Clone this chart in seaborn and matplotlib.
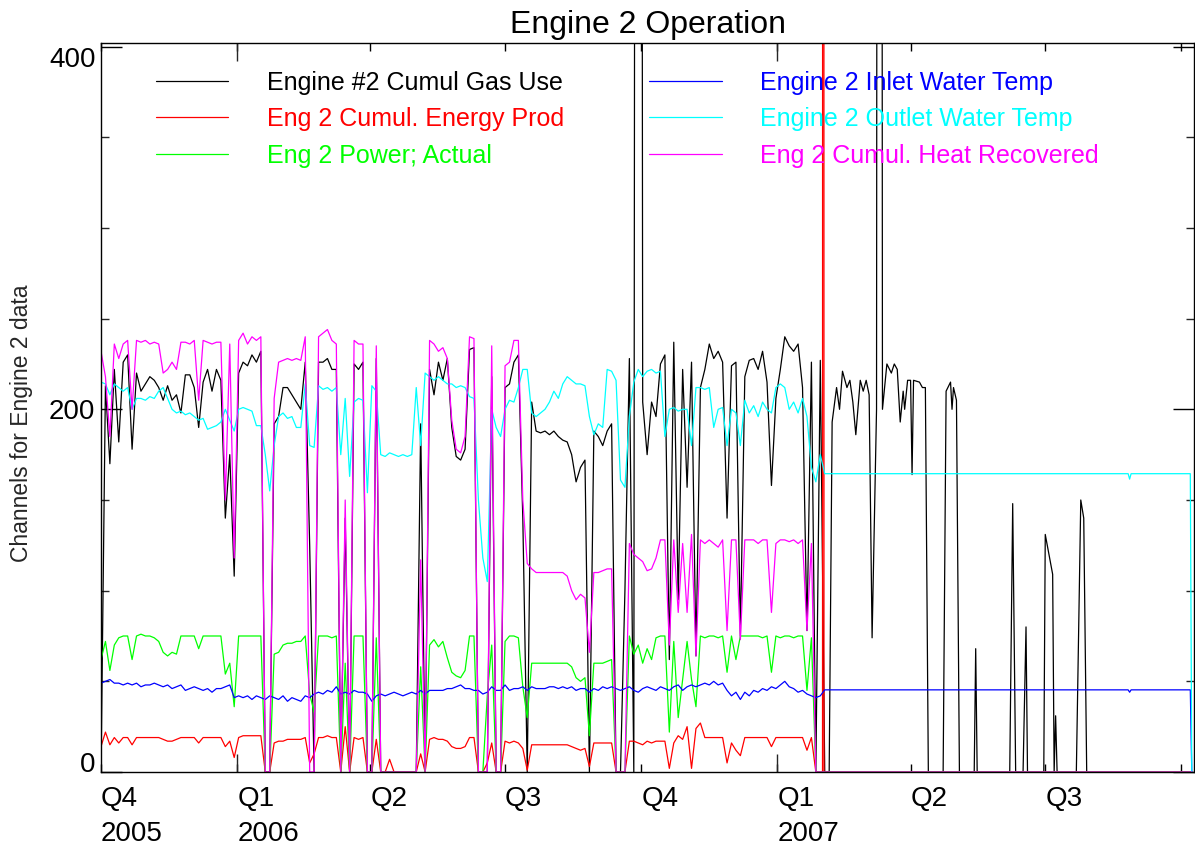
import numpy as np
import pandas as pd
import matplotlib
matplotlib.use("Agg")
import matplotlib.pyplot as plt
import matplotlib.dates as mdates
import seaborn as sns

# ---------------- data ----------------
# active period: samples every 3 days starting 2005-10-01
active_start = "2005-10-01"
active_n = 163

gas_active = [
    0, 213, 170, 222, 182, 226, 230, 178, 220, 210,
    214, 218, 216, 212, 205, 213, 205, 208, 198, 219,
    219, 212, 190, 215, 222, 210, 222, 216, 140, 175,
    108, 220, 226, 224, 230, 226, 232, 0, 0, 192,
    196, 212, 212, 208, 204, 200, 226, 125, 0, 226,
    226, 228, 222, 222, 0, 140, 0, 225, 222, 226,
    0, 0, 228, 0, 0, 0, 0, 0, 0, 0,
    0, 0, 192, 0, 222, 208, 226, 216, 228, 190,
    174, 172, 178, 233, 234, 0, 0, 0, 218, 0,
    0, 212, 214, 226, 230, 140, 0, 204, 188, 187,
    188, 186, 188, 185, 183, 182, 175, 160, 168, 172,
    0, 188, 185, 180, 188, 192, 0, 0, 100, 228,
    0, 2500, 204, 175, 204, 196, 225, 230, 62, 237,
    95, 222, 157, 226, 64, 212, 222, 236, 228, 232,
    226, 140, 224, 226, 75, 218, 227, 228, 222, 232,
    215, 158, 206, 222, 240, 235, 232, 236, 212, 78,
    226, 0, 227]

energy_active = [
    14, 22, 15, 19, 16, 19, 19, 15, 19, 19,
    19, 19, 19, 19, 18, 17, 17, 18, 19, 19,
    19, 19, 16, 19, 19, 19, 19, 19, 14, 17,
    8, 19, 20, 20, 20, 20, 20, 0, 0, 16,
    17, 17, 18, 18, 18, 18, 19, 5, 10, 19,
    19, 20, 19, 19, 0, 25, 0, 19, 18, 19,
    0, 0, 18, 0, 0, 7, 0, 0, 0, 0,
    0, 0, 10, 0, 18, 19, 18, 18, 17, 14,
    13, 13, 14, 19, 19, 0, 0, 5, 16, 0,
    0, 17, 16, 17, 16, 13, 1, 15, 15, 15,
    15, 15, 15, 15, 15, 15, 14, 13, 12, 13,
    3, 16, 16, 16, 16, 16, 0, 0, 0, 17,
    17, 16, 15, 17, 16, 17, 17, 17, 2, 16,
    20, 18, 25, 2, 24, 27, 19, 19, 19, 19,
    19, 5, 16, 12, 9, 19, 19, 19, 19, 19,
    19, 14, 19, 19, 19, 19, 19, 19, 19, 12,
    19, 0, 0]

power_active = [
    62, 72, 56, 70, 74, 75, 75, 62, 75, 76,
    75, 75, 74, 72, 66, 64, 66, 65, 75, 75,
    75, 75, 68, 75, 75, 75, 75, 75, 54, 60,
    36, 75, 75, 75, 75, 75, 75, 0, 0, 65,
    66, 70, 71, 71, 72, 72, 75, 43, 33, 75,
    75, 75, 74, 75, 0, 60, 0, 75, 75, 75,
    0, 0, 74, 0, 0, 0, 0, 0, 0, 0,
    0, 0, 58, 0, 70, 73, 69, 72, 63, 55,
    53, 52, 56, 75, 75, 0, 0, 42, 70, 0,
    0, 72, 75, 75, 74, 47, 30, 60, 60, 60,
    60, 60, 60, 60, 60, 60, 58, 52, 50, 52,
    20, 60, 60, 60, 61, 62, 0, 0, 0, 75,
    65, 70, 60, 68, 62, 74, 75, 75, 22, 72,
    30, 51, 72, 51, 36, 75, 74, 75, 75, 74,
    75, 55, 75, 62, 75, 75, 75, 75, 75, 74,
    75, 55, 75, 74, 75, 75, 74, 75, 75, 45,
    74, 0, 0]

inlet_active = [
    49, 50, 51, 49, 49, 48, 49, 48, 49, 47,
    48, 48, 49, 48, 47, 48, 46, 47, 48, 45,
    46, 47, 46, 45, 46, 44, 46, 46, 47, 48,
    41, 42, 41, 42, 40, 42, 41, 40, 42, 41,
    40, 42, 39, 41, 40, 39, 42, 41, 43, 44,
    43, 45, 44, 47, 43, 44, 43, 45, 44, 44,
    43, 39, 42, 43, 42, 43, 44, 43, 42, 43,
    44, 43, 45, 43, 45, 45, 45, 45, 46, 46,
    47, 48, 46, 46, 45, 45, 43, 44, 47, 45,
    45, 48, 45, 46, 46, 47, 45, 47, 46, 46,
    46, 47, 47, 46, 47, 46, 47, 45, 46, 46,
    44, 46, 45, 47, 46, 47, 46, 45, 46, 47,
    45, 44, 46, 47, 46, 45, 47, 46, 45, 47,
    48, 45, 47, 48, 47, 48, 49, 48, 50, 48,
    49, 45, 42, 44, 40, 44, 42, 45, 44, 46,
    45, 47, 46, 48, 50, 47, 46, 44, 45, 43,
    42, 41, 42]

outlet_active = [
    215, 214, 208, 214, 212, 210, 212, 200, 206, 206,
    205, 207, 206, 210, 212, 206, 200, 198, 199, 197,
    198, 196, 194, 195, 189, 190, 191, 193, 200, 194,
    188, 200, 201, 200, 199, 191, 191, 175, 155, 180,
    196, 198, 195, 196, 190, 190, 214, 180, 179, 213,
    211, 212, 210, 212, 175, 206, 163, 204, 206, 205,
    154, 213, 210, 175, 174, 176, 175, 174, 175, 174,
    175, 212, 180, 220, 218, 216, 218, 216, 214, 214,
    212, 213, 212, 207, 206, 150, 118, 105, 200, 190,
    185, 200, 205, 204, 212, 222, 222, 198, 196, 198,
    200, 204, 210, 206, 214, 218, 216, 214, 214, 213,
    196, 186, 192, 190, 222, 221, 216, 161, 157, 196,
    215, 222, 218, 221, 222, 220, 221, 185, 200, 201,
    199, 200, 200, 180, 212, 212, 211, 212, 190, 200,
    201, 180, 200, 198, 180, 205, 198, 202, 196, 204,
    200, 198, 212, 214, 212, 200, 204, 198, 206, 196,
    168, 160, 175]

heat_active = [
    232, 218, 185, 236, 228, 236, 238, 200, 238, 237,
    238, 236, 237, 236, 220, 222, 226, 222, 237, 237,
    236, 238, 205, 238, 237, 236, 237, 237, 150, 236,
    118, 238, 242, 236, 240, 238, 240, 0, 0, 206,
    226, 227, 228, 227, 228, 227, 240, 0, 0, 240,
    242, 244, 238, 236, 0, 150, 0, 238, 236, 236,
    0, 0, 235, 0, 0, 0, 0, 0, 0, 0,
    0, 0, 117, 0, 238, 236, 232, 234, 228, 194,
    178, 176, 185, 240, 239, 0, 0, 0, 235, 0,
    0, 224, 226, 238, 238, 150, 115, 112, 110, 110,
    110, 110, 110, 110, 110, 108, 100, 95, 98, 96,
    66, 110, 110, 111, 112, 112, 0, 0, 0, 126,
    120, 118, 116, 111, 112, 118, 128, 128, 70, 128,
    88, 126, 88, 131, 64, 128, 126, 128, 126, 124,
    128, 78, 128, 128, 73, 128, 128, 128, 126, 128,
    128, 88, 126, 128, 128, 127, 128, 126, 128, 78,
    126, 0, 0]

# late period (engine mostly stopped), explicit dates
gas_late_dates = ["2007-02-02", "2007-02-05", "2007-02-07", "2007-02-10", "2007-02-12",
                  "2007-02-14", "2007-02-17", "2007-02-19", "2007-02-21", "2007-02-23",
                  "2007-02-26", "2007-02-28", "2007-03-02", "2007-03-04", "2007-03-06",
                  "2007-03-09", "2007-03-11", "2007-03-13", "2007-03-16", "2007-03-19",
                  "2007-03-21", "2007-03-23", "2007-03-25", "2007-03-27", "2007-03-28",
                  "2007-03-30", "2007-04-01", "2007-04-02", "2007-04-03", "2007-04-07",
                  "2007-04-09", "2007-04-11", "2007-04-13",
                  "2007-04-23", "2007-04-25", "2007-04-28", "2007-04-29", "2007-04-30",
                  "2007-05-02", "2007-05-04",
                  "2007-05-14", "2007-05-15", "2007-05-16",
                  "2007-06-07", "2007-06-09", "2007-06-11",
                  "2007-06-16", "2007-06-18", "2007-06-19",
                  "2007-06-30", "2007-07-01", "2007-07-06", "2007-07-07", "2007-07-08", "2007-07-09",
                  "2007-07-22", "2007-07-25", "2007-07-27", "2007-07-29",
                  "2007-10-08"]
gas_late_vals = [0, 0, 193, 212, 200,
                 221, 212, 216, 204, 186,
                 216, 210, 216, 208, 74,
                 200, 2500, 200, 225, 220,
                 225, 222, 193, 210, 200,
                 216, 216, 164, 216, 215,
                 212, 212, 0,
                 0, 210, 215, 200, 212,
                 205, 0,
                 0, 68, 0,
                 0, 148, 0,
                 0, 80, 0,
                 0, 131, 109, 0, 31, 0,
                 0, 150, 140, 0,
                 0]

energy_late_dates = ["2007-01-31 12:00", "2007-02-01 00:00", "2007-02-01 12:00", "2007-10-08 00:00"]
energy_late_vals = [0, 5000, 0, 0]

power_late_dates = ["2007-02-02", "2007-10-08"]
power_late_vals = [0, 0]

inlet_late_dates = ["2007-02-02", "2007-08-26", "2007-08-27", "2007-08-28", "2007-10-07", "2007-10-08"]
inlet_late_vals = [45.3, 45.3, 44, 45.3, 45.3, 0]

outlet_late_dates = ["2007-02-02", "2007-08-26", "2007-08-27", "2007-08-28", "2007-10-07", "2007-10-08"]
outlet_late_vals = [164.5, 164.5, 161.5, 164.5, 164.5, 0]

heat_late_dates = ["2007-02-02", "2007-10-08"]
heat_late_vals = [0, 0]

quarter_dates = ["2005-10-01", "2006-01-01", "2006-04-01", "2006-07-01", "2006-10-01",
                 "2007-01-01", "2007-04-01", "2007-07-01", "2007-10-01"]
quarter_labels = ["Q4", "Q1", "Q2", "Q3", "Q4", "Q1", "Q2", "Q3", ""]
year_dates = ["2005-10-01", "2006-01-01", "2007-01-01"]
year_labels = ["2005", "2006", "2007"]

# ---------------- plot ----------------
sns.set_theme(style="white")
plt.rcParams['font.family'] = ['Liberation Sans', 'DejaVu Sans']

W, H = 1195, 849
fig = plt.figure(figsize=(W / 100, H / 100), dpi=100)
L, R, T, B = 101, 1194, 43, 772
ax = fig.add_axes([L / W, 1 - B / H, (R - L) / W, (B - T) / H])

active_dates = pd.date_range(active_start, periods=active_n, freq="3D")

def full(active, late_dates, late_vals):
    d = list(active_dates) + list(pd.to_datetime(late_dates, format="ISO8601"))
    v = list(active) + list(late_vals)
    return pd.DataFrame({"date": d, "value": v})

series = [
    ("Engine #2 Cumul Gas Use", gas_active, gas_late_dates, gas_late_vals, "#000000"),
    ("Eng 2 Cumul. Energy Prod", energy_active, energy_late_dates, energy_late_vals, "#ff0000"),
    ("Eng 2 Power; Actual", power_active, power_late_dates, power_late_vals, "#00ff00"),
    ("Engine 2 Inlet Water Temp", inlet_active, inlet_late_dates, inlet_late_vals, "#0000ff"),
    ("Engine 2 Outlet Water Temp", outlet_active, outlet_late_dates, outlet_late_vals, "#00ffff"),
    ("Eng 2 Cumul. Heat Recovered", heat_active, heat_late_dates, heat_late_vals, "#ff00ff"),
]

for label, act, ld, lv, col in series:
    df = full(act, ld, lv)
    sns.lineplot(data=df, x="date", y="value", color=col, lw=0.9, ax=ax,
                 label=label, estimator=None, sort=False)

x0 = mdates.date2num(pd.Timestamp("2005-10-01"))
ax.set_xlim(x0, x0 + 738.5)
ax.set_ylim(0, 402)
ax.set_xlabel("")
ax.set_ylabel("Channels for Engine 2 data", fontsize=16.5)
ax.yaxis.set_label_coords(-0.062, 0.478)

for s in ax.spines.values():
    s.set_color("black")
    s.set_linewidth(1.0)

# x ticks
qnums = [mdates.date2num(pd.Timestamp(d)) for d in quarter_dates]
ax.set_xticks(qnums)
ax.set_xticklabels(quarter_labels, ha="left")
ynums = [mdates.date2num(pd.Timestamp(d)) for d in ["2006-01-01", "2007-01-01"]]
ax.xaxis.remove_overlapping_locs = False
ax.set_xticks(ynums, minor=True)
ax.tick_params(axis="x", which="major", direction="in", length=6, width=1,
               top=True, bottom=True, labelsize=20, pad=10, colors="black")
ax.tick_params(axis="x", which="minor", direction="in", length=13, width=1,
               top=True, bottom=True)
for d, t in zip(year_dates, year_labels):
    ax.text(mdates.date2num(pd.Timestamp(d)), -0.0855, t, transform=ax.get_xaxis_transform(),
            ha="left", va="center", fontsize=20, color="black")

# y ticks
ax.set_yticks([0, 200, 400])
ax.set_yticklabels(["0", "200", "400"])
ax.set_yticks([50, 100, 150, 250, 300, 350], minor=True)
ax.tick_params(axis="y", which="major", direction="in", length=15, width=1,
               left=True, right=True, labelsize=20, pad=4, colors="black")
ax.tick_params(axis="y", which="minor", direction="in", length=6, width=1,
               left=True, right=True)
ylabs = ax.get_yticklabels()
ylabs[0].set_va("baseline")
ylabs[-1].set_va("top")

ax.set_title("Engine 2 Operation", fontsize=23, pad=7, color="black")

handles, labels = ax.get_legend_handles_labels()
leg = ax.legend(handles, labels, ncol=2, loc="upper left", bbox_to_anchor=(0.050, 0.962),
                frameon=False, fontsize=18, handlelength=2.9, handletextpad=1.55,
                columnspacing=3.4, labelspacing=0.50, borderaxespad=0, borderpad=0)
for txt, ln in zip(leg.get_texts(), leg.get_lines()):
    txt.set_color(ln.get_color())
    ln.set_linewidth(0.9)

fig.savefig("out.png", dpi=100)
